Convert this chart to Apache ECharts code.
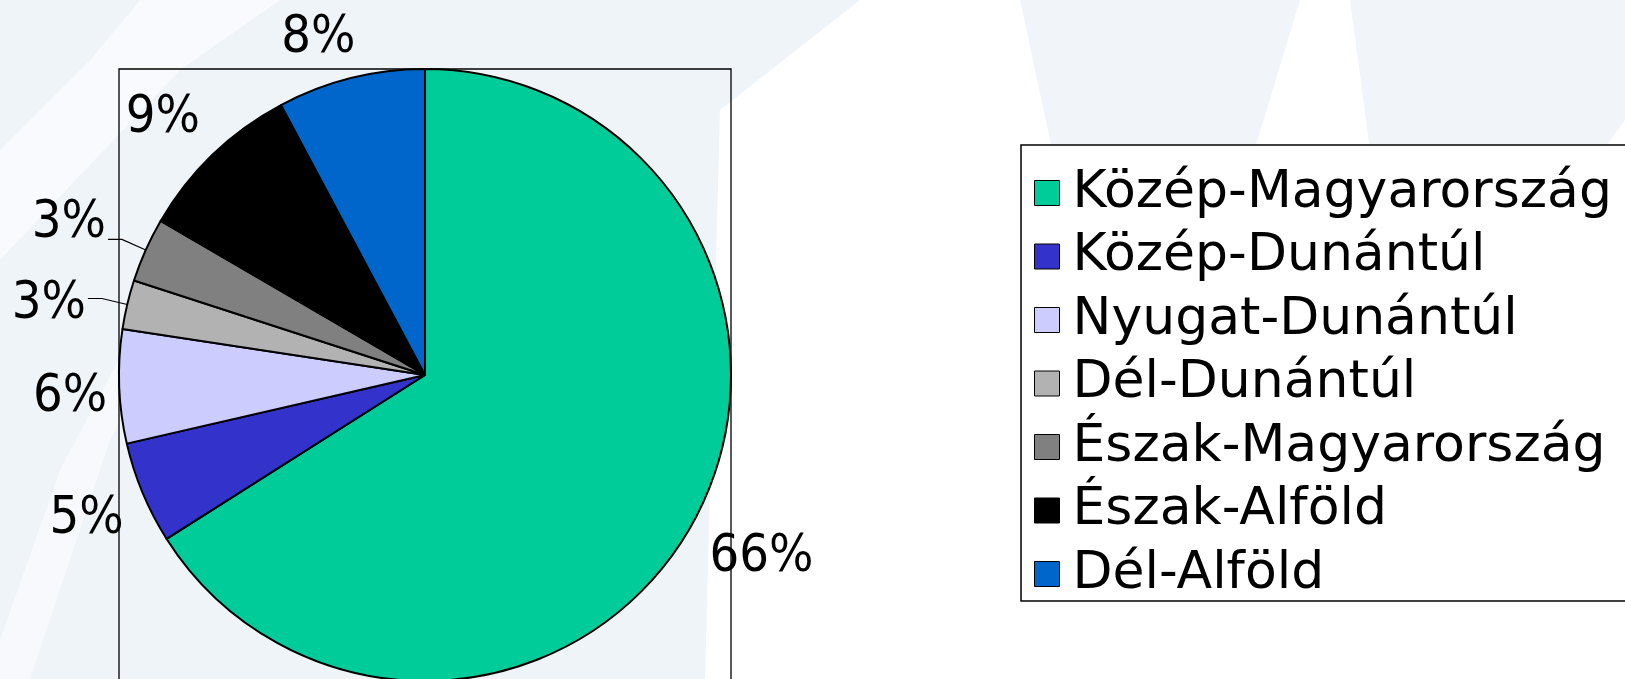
<!DOCTYPE html>
<html>
<head>
<meta charset="utf-8">
<title>Régiók megoszlása</title>
<script src="https://cdn.jsdelivr.net/npm/echarts@6/dist/echarts.min.js"></script>
<style>
  html, body { margin: 0; padding: 0; background: #ffffff; }
  #chart { width: 1625px; height: 679px; }
</style>
</head>
<body>
<div id="chart"></div>
<script>
// regions and their share (percent)
const regions = [
    'Közép-Magyarország',
    'Közép-Dunántúl',
    'Nyugat-Dunántúl',
    'Dél-Dunántúl',
    'Észak-Magyarország',
    'Észak-Alföld',
    'Dél-Alföld'
];
const shares = [66.0, 5.4, 6.0, 2.6, 3.4, 8.8, 7.8];
const sliceColors = ['#00cc99', '#3333cc', '#ccccff', '#b2b2b2', '#808080', '#000000', '#0066cc'];
// only the two thin slices get a leader line
const leaderLine = [false, false, false, true, true, false, false];
// hand placement of the percent labels, like in the original (px, relative to default spot)
const labelNudge = [[-7, 28], [5, 21], [13, 10], [3, 6], [3, -16], [8, -26], [19, -26]];

const PIE_X = 425, PIE_Y = 375, PIE_R = 306;
const LABEL_FONT = "'Liberation Sans Narrow', 'DejaVu Sans Condensed', sans-serif";
const LEGEND_FONT = "'DejaVu Sans', sans-serif";

const chart = echarts.init(document.getElementById('chart'), null, { renderer: 'canvas' });

const pieData = regions.map((name, i) => ({
    name: name,
    value: shares[i],
    itemStyle: { color: sliceColors[i] },
    labelLine: { show: leaderLine[i], length: leaderLine[i] ? 26 : 14, length2: leaderLine[i] ? 14 : 6 }
}));

// faint watermark shapes behind the chart
const background = [
    { type: 'rect', z: -10, shape: { x: 0, y: 0, width: 1625, height: 679 }, style: { fill: '#ffffff' } },
    { type: 'polygon', z: -9, shape: { points: [[0, 0], [860, 0], [720, 110], [705, 679], [0, 679]] }, style: { fill: '#eff4f9' } },
    { type: 'polygon', z: -8, shape: { points: [[0, 150], [90, 60], [140, 0], [280, 0], [180, 70], [0, 260]] }, style: { fill: '#f8fafd' } },
    { type: 'polygon', z: -8, shape: { points: [[0, 640], [60, 470], [150, 300], [200, 260], [110, 440], [30, 679], [0, 679]] }, style: { fill: '#f7f9fc' } },
    { type: 'polygon', z: -8, shape: { points: [[1020, 0], [1300, 0], [1200, 330], [1110, 420]] }, style: { fill: '#f1f5fa' } },
    { type: 'polygon', z: -8, shape: { points: [[1350, 0], [1625, 0], [1625, 120], [1420, 400], [1390, 300]] }, style: { fill: '#f1f5fa' } }
];

const option = {
    backgroundColor: 'transparent',
    animation: false,
    legend: {
        orient: 'vertical',
        left: 1021,
        top: 145,
        padding: [22, 30, 1, 13],
        itemGap: 11.5,
        itemWidth: 25,
        itemHeight: 25,
        icon: 'rect',
        backgroundColor: '#ffffff',
        borderColor: '#000000',
        borderWidth: 1.5,
        borderRadius: 0,
        itemStyle: { borderColor: '#000000', borderWidth: 1 },
        textStyle: {
            fontFamily: LEGEND_FONT,
            fontSize: 52,
            color: '#000000',
            padding: [0, 0, 0, 8]
        },
        data: regions
    },
    graphic: background.concat([
        // plot area frame around the pie (runs off the bottom edge)
        {
            type: 'rect',
            z: 100,
            silent: true,
            shape: { x: PIE_X - PIE_R, y: PIE_Y - PIE_R, width: 2 * PIE_R, height: 800 },
            style: { fill: 'transparent', stroke: '#000000', lineWidth: 1.3 }
        }
    ]),
    series: [{
        name: 'Régiók',
        type: 'pie',
        center: [PIE_X, PIE_Y],
        radius: PIE_R,
        startAngle: 90,
        clockwise: true,
        avoidLabelOverlap: false,
        z: 2,
        itemStyle: { borderColor: '#000000', borderWidth: 2 },
        emphasis: { disabled: true },
        label: {
            show: true,
            position: 'outside',
            formatter: (p) => Math.round(p.value) + '%',
            fontFamily: LABEL_FONT,
            fontSize: 52,
            color: '#000000'
        },
        labelLine: {
            lineStyle: { color: '#000000', width: 1.2 }
        },
        labelLayout: (params) => ({
            dx: labelNudge[params.dataIndex][0],
            dy: labelNudge[params.dataIndex][1]
        }),
        data: pieData
    }]
};

chart.setOption(option);
window.addEventListener('resize', () => chart.resize());
</script>
</body>
</html>
